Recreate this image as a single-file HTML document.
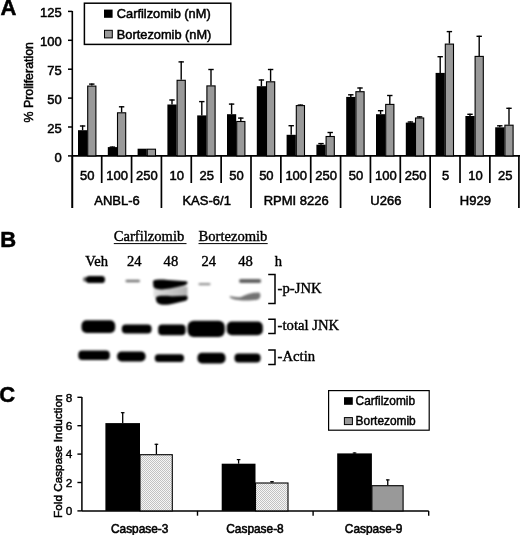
<!DOCTYPE html>
<html><head><meta charset="utf-8"><style>
html,body{margin:0;padding:0;background:#fff;}
svg{display:block;filter:blur(0.3px);}
.pl{font-family:"Liberation Sans", sans-serif;font-size:22px;font-weight:bold;stroke:#000;stroke-width:0.5px;}
.t12{font-family:"Liberation Sans", sans-serif;font-size:13px;stroke:#000;stroke-width:0.5px;}
.t12y{font-family:"Liberation Sans", sans-serif;font-size:12.4px;stroke:#000;stroke-width:0.5px;}
.t13{font-family:"Liberation Sans", sans-serif;font-size:12.8px;stroke:#000;stroke-width:0.5px;}
.t11{font-family:"Liberation Sans", sans-serif;font-size:11.8px;stroke:#000;stroke-width:0.4px;}
.t11b{font-family:"Liberation Sans", sans-serif;font-size:11.75px;stroke:#000;stroke-width:0.5px;}
.t11c{font-family:"Liberation Sans", sans-serif;font-size:11.9px;stroke:#000;stroke-width:0.55px;}
.t12l{font-family:"Liberation Sans", sans-serif;font-size:11.9px;stroke:#000;stroke-width:0.45px;}
.tm{font-family:"Liberation Serif", serif;font-size:14.6px;stroke:#000;stroke-width:0.4px;}
.tm2{font-family:"Liberation Serif", serif;font-size:14.7px;stroke:#000;stroke-width:0.4px;}
</style></head><body>
<svg width="520" height="535" viewBox="0 0 520 535">
<defs>
<linearGradient id="smear" x1="0" x2="1" y1="0" y2="0"><stop offset="0" stop-color="#000" stop-opacity="0.12"/><stop offset="0.5" stop-color="#000" stop-opacity="0.22"/><stop offset="1" stop-color="#000" stop-opacity="0.3"/></linearGradient>
<filter id="bl" x="-20%" y="-50%" width="140%" height="200%"><feGaussianBlur stdDeviation="0.9"/></filter>
<pattern id="dots" width="2" height="2" patternUnits="userSpaceOnUse"><rect width="2" height="2" fill="#f6f6f6"/><rect width="1" height="1" fill="#c2c2c2"/><rect x="1" y="1" width="1" height="1" fill="#c2c2c2"/></pattern>
</defs>
<rect width="520" height="535" fill="#fff"/>
<text x="0.5" y="14.8" class="pl">A</text>
<line x1="72.3" y1="11" x2="72.3" y2="208" stroke="#000" stroke-width="1.6"/>
<line x1="68" y1="11.40" x2="72.3" y2="11.40" stroke="#000" stroke-width="1.5"/>
<text x="61.8" y="17.00" text-anchor="end" class="t12">125</text>
<line x1="68" y1="40.30" x2="72.3" y2="40.30" stroke="#000" stroke-width="1.5"/>
<text x="61.8" y="45.90" text-anchor="end" class="t12">100</text>
<line x1="68" y1="69.20" x2="72.3" y2="69.20" stroke="#000" stroke-width="1.5"/>
<text x="61.8" y="74.80" text-anchor="end" class="t12">75</text>
<line x1="68" y1="98.10" x2="72.3" y2="98.10" stroke="#000" stroke-width="1.5"/>
<text x="61.8" y="103.70" text-anchor="end" class="t12">50</text>
<line x1="68" y1="127.00" x2="72.3" y2="127.00" stroke="#000" stroke-width="1.5"/>
<text x="61.8" y="132.60" text-anchor="end" class="t12">25</text>
<line x1="68" y1="155.90" x2="72.3" y2="155.90" stroke="#000" stroke-width="1.5"/>
<text x="61.8" y="161.50" text-anchor="end" class="t12">0</text>
<line x1="72.3" y1="155.9" x2="520" y2="155.9" stroke="#000" stroke-width="1.6"/>
<text transform="translate(32.9,82.3) rotate(-90)" text-anchor="middle" class="t12y">% Proliferation</text>
<line x1="82.60" y1="125.40" x2="82.60" y2="130.20" stroke="#000" stroke-width="1.4"/>
<line x1="79.90" y1="126.00" x2="85.30" y2="126.00" stroke="#000" stroke-width="1.4"/>
<line x1="91.80" y1="83.50" x2="91.80" y2="85.60" stroke="#000" stroke-width="1.4"/>
<line x1="89.10" y1="84.10" x2="94.50" y2="84.10" stroke="#000" stroke-width="1.4"/>
<rect x="78.00" y="130.20" width="9.2" height="25.70" fill="#000"/>
<rect x="87.70" y="86.10" width="8.20" height="69.80" fill="#999" stroke="#000" stroke-width="1.1"/>
<line x1="112.40" y1="146.50" x2="112.40" y2="147.10" stroke="#000" stroke-width="1.4"/>
<line x1="109.70" y1="147.10" x2="115.10" y2="147.10" stroke="#000" stroke-width="1.4"/>
<line x1="121.60" y1="106.20" x2="121.60" y2="112.30" stroke="#000" stroke-width="1.4"/>
<line x1="118.90" y1="106.80" x2="124.30" y2="106.80" stroke="#000" stroke-width="1.4"/>
<rect x="107.80" y="147.10" width="9.2" height="8.80" fill="#000"/>
<rect x="117.50" y="112.80" width="8.20" height="43.10" fill="#999" stroke="#000" stroke-width="1.1"/>
<rect x="137.60" y="148.70" width="9.2" height="7.20" fill="#000"/>
<rect x="147.30" y="149.20" width="8.20" height="6.70" fill="#999" stroke="#000" stroke-width="1.1"/>
<line x1="172.00" y1="99.40" x2="172.00" y2="104.50" stroke="#000" stroke-width="1.4"/>
<line x1="169.30" y1="100.00" x2="174.70" y2="100.00" stroke="#000" stroke-width="1.4"/>
<line x1="181.20" y1="61.30" x2="181.20" y2="79.80" stroke="#000" stroke-width="1.4"/>
<line x1="178.50" y1="61.90" x2="183.90" y2="61.90" stroke="#000" stroke-width="1.4"/>
<rect x="167.40" y="104.50" width="9.2" height="51.40" fill="#000"/>
<rect x="177.10" y="80.30" width="8.20" height="75.60" fill="#999" stroke="#000" stroke-width="1.1"/>
<line x1="201.80" y1="101.00" x2="201.80" y2="115.40" stroke="#000" stroke-width="1.4"/>
<line x1="199.10" y1="101.60" x2="204.50" y2="101.60" stroke="#000" stroke-width="1.4"/>
<line x1="211.00" y1="68.90" x2="211.00" y2="85.40" stroke="#000" stroke-width="1.4"/>
<line x1="208.30" y1="69.50" x2="213.70" y2="69.50" stroke="#000" stroke-width="1.4"/>
<rect x="197.20" y="115.40" width="9.2" height="40.50" fill="#000"/>
<rect x="206.90" y="85.90" width="8.20" height="70.00" fill="#999" stroke="#000" stroke-width="1.1"/>
<line x1="231.60" y1="103.50" x2="231.60" y2="114.20" stroke="#000" stroke-width="1.4"/>
<line x1="228.90" y1="104.10" x2="234.30" y2="104.10" stroke="#000" stroke-width="1.4"/>
<line x1="240.80" y1="117.50" x2="240.80" y2="121.00" stroke="#000" stroke-width="1.4"/>
<line x1="238.10" y1="118.10" x2="243.50" y2="118.10" stroke="#000" stroke-width="1.4"/>
<rect x="227.00" y="114.20" width="9.2" height="41.70" fill="#000"/>
<rect x="236.70" y="121.50" width="8.20" height="34.40" fill="#999" stroke="#000" stroke-width="1.1"/>
<line x1="261.40" y1="79.40" x2="261.40" y2="86.20" stroke="#000" stroke-width="1.4"/>
<line x1="258.70" y1="80.00" x2="264.10" y2="80.00" stroke="#000" stroke-width="1.4"/>
<line x1="270.60" y1="68.90" x2="270.60" y2="81.30" stroke="#000" stroke-width="1.4"/>
<line x1="267.90" y1="69.50" x2="273.30" y2="69.50" stroke="#000" stroke-width="1.4"/>
<rect x="256.80" y="86.20" width="9.2" height="69.70" fill="#000"/>
<rect x="266.50" y="81.80" width="8.20" height="74.10" fill="#999" stroke="#000" stroke-width="1.1"/>
<line x1="291.20" y1="125.10" x2="291.20" y2="134.80" stroke="#000" stroke-width="1.4"/>
<line x1="288.50" y1="125.70" x2="293.90" y2="125.70" stroke="#000" stroke-width="1.4"/>
<line x1="300.40" y1="104.50" x2="300.40" y2="105.10" stroke="#000" stroke-width="1.4"/>
<line x1="297.70" y1="105.10" x2="303.10" y2="105.10" stroke="#000" stroke-width="1.4"/>
<rect x="286.60" y="134.80" width="9.2" height="21.10" fill="#000"/>
<rect x="296.30" y="105.60" width="8.20" height="50.30" fill="#999" stroke="#000" stroke-width="1.1"/>
<line x1="321.00" y1="143.00" x2="321.00" y2="144.70" stroke="#000" stroke-width="1.4"/>
<line x1="318.30" y1="143.60" x2="323.70" y2="143.60" stroke="#000" stroke-width="1.4"/>
<line x1="330.20" y1="131.90" x2="330.20" y2="136.00" stroke="#000" stroke-width="1.4"/>
<line x1="327.50" y1="132.50" x2="332.90" y2="132.50" stroke="#000" stroke-width="1.4"/>
<rect x="316.40" y="144.70" width="9.2" height="11.20" fill="#000"/>
<rect x="326.10" y="136.50" width="8.20" height="19.40" fill="#999" stroke="#000" stroke-width="1.1"/>
<line x1="350.80" y1="94.20" x2="350.80" y2="96.90" stroke="#000" stroke-width="1.4"/>
<line x1="348.10" y1="94.80" x2="353.50" y2="94.80" stroke="#000" stroke-width="1.4"/>
<line x1="360.00" y1="87.40" x2="360.00" y2="91.20" stroke="#000" stroke-width="1.4"/>
<line x1="357.30" y1="88.00" x2="362.70" y2="88.00" stroke="#000" stroke-width="1.4"/>
<rect x="346.20" y="96.90" width="9.2" height="59.00" fill="#000"/>
<rect x="355.90" y="91.70" width="8.20" height="64.20" fill="#999" stroke="#000" stroke-width="1.1"/>
<line x1="380.60" y1="110.10" x2="380.60" y2="114.20" stroke="#000" stroke-width="1.4"/>
<line x1="377.90" y1="110.70" x2="383.30" y2="110.70" stroke="#000" stroke-width="1.4"/>
<line x1="389.80" y1="94.90" x2="389.80" y2="103.90" stroke="#000" stroke-width="1.4"/>
<line x1="387.10" y1="95.50" x2="392.50" y2="95.50" stroke="#000" stroke-width="1.4"/>
<rect x="376.00" y="114.20" width="9.2" height="41.70" fill="#000"/>
<rect x="385.70" y="104.40" width="8.20" height="51.50" fill="#999" stroke="#000" stroke-width="1.1"/>
<line x1="410.40" y1="121.40" x2="410.40" y2="122.60" stroke="#000" stroke-width="1.4"/>
<line x1="407.70" y1="122.00" x2="413.10" y2="122.00" stroke="#000" stroke-width="1.4"/>
<line x1="419.60" y1="116.30" x2="419.60" y2="117.50" stroke="#000" stroke-width="1.4"/>
<line x1="416.90" y1="116.90" x2="422.30" y2="116.90" stroke="#000" stroke-width="1.4"/>
<rect x="405.80" y="122.60" width="9.2" height="33.30" fill="#000"/>
<rect x="415.50" y="118.00" width="8.20" height="37.90" fill="#999" stroke="#000" stroke-width="1.1"/>
<line x1="440.20" y1="56.10" x2="440.20" y2="72.90" stroke="#000" stroke-width="1.4"/>
<line x1="437.50" y1="56.70" x2="442.90" y2="56.70" stroke="#000" stroke-width="1.4"/>
<line x1="449.40" y1="31.00" x2="449.40" y2="43.60" stroke="#000" stroke-width="1.4"/>
<line x1="446.70" y1="31.60" x2="452.10" y2="31.60" stroke="#000" stroke-width="1.4"/>
<rect x="435.60" y="72.90" width="9.2" height="83.00" fill="#000"/>
<rect x="445.30" y="44.10" width="8.20" height="111.80" fill="#999" stroke="#000" stroke-width="1.1"/>
<line x1="470.00" y1="113.70" x2="470.00" y2="116.00" stroke="#000" stroke-width="1.4"/>
<line x1="467.30" y1="114.30" x2="472.70" y2="114.30" stroke="#000" stroke-width="1.4"/>
<line x1="479.20" y1="35.70" x2="479.20" y2="55.90" stroke="#000" stroke-width="1.4"/>
<line x1="476.50" y1="36.30" x2="481.90" y2="36.30" stroke="#000" stroke-width="1.4"/>
<rect x="465.40" y="116.00" width="9.2" height="39.90" fill="#000"/>
<rect x="475.10" y="56.40" width="8.20" height="99.50" fill="#999" stroke="#000" stroke-width="1.1"/>
<line x1="499.80" y1="125.20" x2="499.80" y2="127.30" stroke="#000" stroke-width="1.4"/>
<line x1="497.10" y1="125.80" x2="502.50" y2="125.80" stroke="#000" stroke-width="1.4"/>
<line x1="509.00" y1="107.70" x2="509.00" y2="124.70" stroke="#000" stroke-width="1.4"/>
<line x1="506.30" y1="108.30" x2="511.70" y2="108.30" stroke="#000" stroke-width="1.4"/>
<rect x="495.20" y="127.30" width="9.2" height="28.60" fill="#000"/>
<rect x="504.90" y="125.20" width="8.20" height="30.70" fill="#999" stroke="#000" stroke-width="1.1"/>
<line x1="72.30" y1="155.9" x2="72.30" y2="208" stroke="#000" stroke-width="1.7"/>
<line x1="101.70" y1="155.9" x2="101.70" y2="183" stroke="#000" stroke-width="1.7"/>
<line x1="131.56" y1="155.9" x2="131.56" y2="183" stroke="#000" stroke-width="1.7"/>
<line x1="161.42" y1="155.9" x2="161.42" y2="208" stroke="#000" stroke-width="1.7"/>
<line x1="191.28" y1="155.9" x2="191.28" y2="183" stroke="#000" stroke-width="1.7"/>
<line x1="221.14" y1="155.9" x2="221.14" y2="183" stroke="#000" stroke-width="1.7"/>
<line x1="251.00" y1="155.9" x2="251.00" y2="208" stroke="#000" stroke-width="1.7"/>
<line x1="280.86" y1="155.9" x2="280.86" y2="183" stroke="#000" stroke-width="1.7"/>
<line x1="310.72" y1="155.9" x2="310.72" y2="183" stroke="#000" stroke-width="1.7"/>
<line x1="340.58" y1="155.9" x2="340.58" y2="208" stroke="#000" stroke-width="1.7"/>
<line x1="370.44" y1="155.9" x2="370.44" y2="183" stroke="#000" stroke-width="1.7"/>
<line x1="400.30" y1="155.9" x2="400.30" y2="183" stroke="#000" stroke-width="1.7"/>
<line x1="430.16" y1="155.9" x2="430.16" y2="208" stroke="#000" stroke-width="1.7"/>
<line x1="460.02" y1="155.9" x2="460.02" y2="183" stroke="#000" stroke-width="1.7"/>
<line x1="489.88" y1="155.9" x2="489.88" y2="183" stroke="#000" stroke-width="1.7"/>
<line x1="518.90" y1="155.9" x2="518.90" y2="208" stroke="#000" stroke-width="1.7"/>
<text x="87.23" y="179.5" text-anchor="middle" class="t12">50</text>
<text x="117.09" y="179.5" text-anchor="middle" class="t12">100</text>
<text x="146.95" y="179.5" text-anchor="middle" class="t12">250</text>
<text x="176.81" y="179.5" text-anchor="middle" class="t12">10</text>
<text x="206.67" y="179.5" text-anchor="middle" class="t12">25</text>
<text x="236.53" y="179.5" text-anchor="middle" class="t12">50</text>
<text x="266.39" y="179.5" text-anchor="middle" class="t12">50</text>
<text x="296.25" y="179.5" text-anchor="middle" class="t12">100</text>
<text x="326.11" y="179.5" text-anchor="middle" class="t12">250</text>
<text x="355.97" y="179.5" text-anchor="middle" class="t12">50</text>
<text x="385.83" y="179.5" text-anchor="middle" class="t12">100</text>
<text x="415.69" y="179.5" text-anchor="middle" class="t12">250</text>
<text x="445.55" y="179.5" text-anchor="middle" class="t12">5</text>
<text x="475.41" y="179.5" text-anchor="middle" class="t12">10</text>
<text x="505.27" y="179.5" text-anchor="middle" class="t12">25</text>
<text x="117.09" y="204.9" text-anchor="middle" class="t12">ANBL-6</text>
<text x="206.67" y="204.9" text-anchor="middle" class="t12">KAS-6/1</text>
<text x="296.25" y="204.9" text-anchor="middle" class="t12">RPMI 8226</text>
<text x="385.83" y="204.9" text-anchor="middle" class="t12">U266</text>
<text x="475.41" y="204.9" text-anchor="middle" class="t12">H929</text>
<rect x="84.4" y="3.2" width="146.4" height="41.2" fill="#fff" stroke="#000" stroke-width="1.5"/>
<rect x="104" y="9.6" width="8.6" height="8.2" fill="#000"/>
<rect x="104.5" y="30.3" width="7.8" height="7.6" fill="#999" stroke="#000" stroke-width="1"/>
<text x="116.8" y="18.3" class="t13">Carfilzomib (nM)</text>
<text x="116.8" y="38.6" class="t13">Bortezomib (nM)</text>
<text x="0.3" y="247.2" class="pl">B</text>
<text x="113.8" y="241.2" class="tm">Carfilzomib</text>
<line x1="113.8" y1="243.6" x2="186.5" y2="243.6" stroke="#000" stroke-width="1"/>
<text x="198.5" y="241.2" class="tm">Bortezomib</text>
<line x1="198.5" y1="243.6" x2="267.7" y2="243.6" stroke="#000" stroke-width="1"/>
<text x="96.7" y="265.6" text-anchor="middle" class="tm">Veh</text>
<text x="134.2" y="265.6" text-anchor="middle" class="tm">24</text>
<text x="170.9" y="265.6" text-anchor="middle" class="tm">48</text>
<text x="208.8" y="265.6" text-anchor="middle" class="tm">24</text>
<text x="245.6" y="265.6" text-anchor="middle" class="tm">48</text>
<text x="278.3" y="265.6" text-anchor="middle" class="tm">h</text>
<path d="M268.2 274.6 H275 V303.6 H268.2" fill="none" stroke="#000" stroke-width="1.5"/>
<text x="277.6" y="292.8" class="tm2">-p-JNK</text>
<path d="M268.2 319.2 H275 V333.4 H268.2" fill="none" stroke="#000" stroke-width="1.5"/>
<text x="277.6" y="330.4" class="tm2">-total JNK</text>
<path d="M268.2 350.0 H275 V364.6 H268.2" fill="none" stroke="#000" stroke-width="1.5"/>
<text x="277.6" y="360.7" class="tm2">-Actin</text>
<g filter="url(#bl)">
<rect x="86.0" y="276.10" width="19.0" height="7.0" rx="3.4" fill="#000" fill-opacity="1"/>
<rect x="83.0" y="277.10" width="7.0" height="4.6" rx="2.2" fill="#000" fill-opacity="0.6"/>
<rect x="125.5" y="279.80" width="14.5" height="2.4" rx="1.2" fill="#000" fill-opacity="0.55"/>
<rect x="153.5" y="286.5" width="34" height="10.5" fill="url(#smear)"/>
<path d="M153,282 C153,279.5 158,279.2 168,280 L186,281.2 C188.5,282 188,284.2 184,285.5 L170,288.6 C162,290 155,289.6 153.4,286.8 Z" fill="#000"/>
<path d="M155.6,298 C156.4,295.6 162,295.6 172,296.2 L186,295.8 C188.5,296.6 188.4,299.6 185.6,300.8 L174,303.6 C166,305.6 159,305.2 156.6,302 Z" fill="#000"/>
<rect x="198.5" y="283.10" width="12.0" height="2.2" rx="1" fill="#000" fill-opacity="0.42"/>
<rect x="239" y="278.90" width="22.19999999999999" height="4.2" rx="2" fill="#000" fill-opacity="0.62"/>
<path d="M229.5,296.5 C231,295.6 236,298 241,297 C246,294.5 252,292.5 259,292.6 C261,293.5 261,298 258,299.4 C252,300.6 245,300.8 240,300.2 C235,300 230,298.6 229.5,296.5 Z" fill="#000" fill-opacity="0.55"/>
<rect x="81.5" y="320.20" width="33.7" height="12.8" rx="5" fill="#000" fill-opacity="1"/>
<rect x="121.8" y="324.40" width="29.799999999999997" height="9.2" rx="4" fill="#000" fill-opacity="1"/>
<rect x="158.2" y="324.40" width="27.400000000000006" height="10.8" rx="4" fill="#000" fill-opacity="1"/>
<rect x="187.6" y="320.70" width="37.20000000000002" height="16.2" rx="6" fill="#000" fill-opacity="1"/>
<rect x="226.8" y="321.60" width="36.0" height="13.6" rx="5" fill="#000" fill-opacity="1"/>
<rect x="78.3" y="350.50" width="31.5" height="9.4" rx="4" fill="#000" fill-opacity="1"/>
<rect x="117.1" y="351.40" width="28.5" height="10" rx="4.5" fill="#000" fill-opacity="1"/>
<rect x="154.8" y="354.30" width="29.19999999999999" height="7.6" rx="3.5" fill="#000" fill-opacity="1"/>
<rect x="197.5" y="352.80" width="28.0" height="10.6" rx="4.5" fill="#000" fill-opacity="1"/>
<rect x="234.5" y="353.50" width="26.100000000000023" height="9.0" rx="4" fill="#000" fill-opacity="1"/>
</g>
<text x="-0.8" y="402.2" class="pl">C</text>
<line x1="81.9" y1="397" x2="81.9" y2="510.9" stroke="#000" stroke-width="1.5"/>
<line x1="77.4" y1="397.30" x2="81.9" y2="397.30" stroke="#000" stroke-width="1.4"/>
<text x="72.3" y="401.50" text-anchor="end" class="t11">8</text>
<line x1="77.4" y1="425.70" x2="81.9" y2="425.70" stroke="#000" stroke-width="1.4"/>
<text x="72.3" y="429.90" text-anchor="end" class="t11">6</text>
<line x1="77.4" y1="454.10" x2="81.9" y2="454.10" stroke="#000" stroke-width="1.4"/>
<text x="72.3" y="458.30" text-anchor="end" class="t11">4</text>
<line x1="77.4" y1="482.50" x2="81.9" y2="482.50" stroke="#000" stroke-width="1.4"/>
<text x="72.3" y="486.70" text-anchor="end" class="t11">2</text>
<line x1="77.4" y1="510.90" x2="81.9" y2="510.90" stroke="#000" stroke-width="1.4"/>
<text x="72.3" y="515.10" text-anchor="end" class="t11">0</text>
<line x1="81.9" y1="510.9" x2="428.70" y2="510.9" stroke="#000" stroke-width="1.5"/>
<line x1="197.50" y1="510.9" x2="197.50" y2="515.6999999999999" stroke="#000" stroke-width="1.4"/>
<line x1="313.10" y1="510.9" x2="313.10" y2="515.6999999999999" stroke="#000" stroke-width="1.4"/>
<line x1="428.70" y1="510.9" x2="428.70" y2="515.6999999999999" stroke="#000" stroke-width="1.4"/>
<text transform="translate(62.4,456.2) rotate(-90)" text-anchor="middle" class="t11b">Fold Caspase Induction</text>
<line x1="122.70" y1="412.20" x2="122.70" y2="423.10" stroke="#000" stroke-width="1.3"/>
<line x1="120.90" y1="412.70" x2="124.50" y2="412.70" stroke="#000" stroke-width="1.2"/>
<line x1="156.40" y1="443.80" x2="156.40" y2="454.20" stroke="#000" stroke-width="1.3"/>
<line x1="154.60" y1="444.30" x2="158.20" y2="444.30" stroke="#000" stroke-width="1.2"/>
<rect x="105.4" y="423.1" width="34.60" height="87.80" fill="#000"/>
<rect x="140.0" y="454.70" width="32.30" height="56.20" fill="url(#dots)" stroke="#000" stroke-width="1.1"/>
<line x1="238.60" y1="459.10" x2="238.60" y2="463.70" stroke="#000" stroke-width="1.3"/>
<line x1="236.80" y1="459.60" x2="240.40" y2="459.60" stroke="#000" stroke-width="1.2"/>
<line x1="272.00" y1="481.20" x2="272.00" y2="482.50" stroke="#000" stroke-width="1.3"/>
<line x1="270.20" y1="481.70" x2="273.80" y2="481.70" stroke="#000" stroke-width="1.2"/>
<rect x="221.7" y="463.7" width="33.80" height="47.20" fill="#000"/>
<rect x="255.5" y="483.00" width="32.50" height="27.90" fill="url(#dots)" stroke="#000" stroke-width="1.1"/>
<line x1="354.55" y1="452.50" x2="354.55" y2="453.40" stroke="#000" stroke-width="1.3"/>
<line x1="352.75" y1="453.00" x2="356.35" y2="453.00" stroke="#000" stroke-width="1.2"/>
<line x1="387.75" y1="479.40" x2="387.75" y2="485.20" stroke="#000" stroke-width="1.3"/>
<line x1="385.95" y1="479.90" x2="389.55" y2="479.90" stroke="#000" stroke-width="1.2"/>
<rect x="337.2" y="453.4" width="34.70" height="57.50" fill="#000"/>
<rect x="371.9" y="485.70" width="31.20" height="25.20" fill="#999" stroke="#000" stroke-width="1.1"/>
<text x="139.7" y="532.5" text-anchor="middle" class="t11c">Caspase-3</text>
<text x="255.0" y="532.5" text-anchor="middle" class="t11c">Caspase-8</text>
<text x="373.6" y="532.5" text-anchor="middle" class="t11c">Caspase-9</text>
<rect x="328.6" y="390.6" width="100.6" height="39.6" fill="#fff" stroke="#000" stroke-width="1.2"/>
<rect x="344" y="397.2" width="8.8" height="7.6" fill="#000"/>
<rect x="344.4" y="417.6" width="8" height="7" fill="#999" stroke="#000" stroke-width="1"/>
<text x="355.6" y="404.7" class="t12l">Carfilzomib</text>
<text x="355.6" y="424.8" class="t12l">Bortezomib</text>
</svg>
</body></html>
